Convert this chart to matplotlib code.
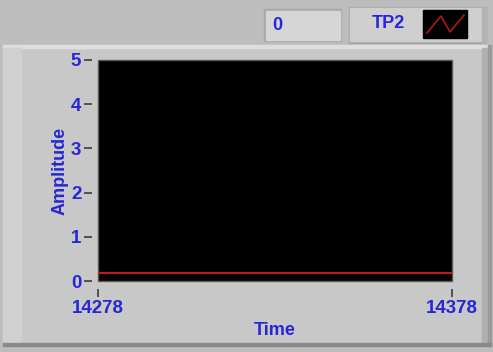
import matplotlib
matplotlib.use("Agg")
from matplotlib import pyplot as plt
from matplotlib.patches import Rectangle

# Data
time = [14278, 14378]
amplitude = [0.19, 0.19]
y_ticks = [0, 1, 2, 3, 4, 5]
x_ticks = [14278, 14378]
legend_name = "TP2"
display_value = "0"

blue = "#2626d8"
plt.rcParams["font.family"] = ["Liberation Sans", "DejaVu Sans"]
plt.rcParams["font.weight"] = "bold"

W, H = 493, 352
fig = plt.figure(figsize=(W / 100, H / 100), dpi=100)
fig.patch.set_facecolor("#bdbdbd")

# Background panel drawn in pixel coordinates
bg = fig.add_axes([0, 0, 1, 1])
bg.set_xlim(0, W)
bg.set_ylim(H, 0)
bg.axis("off")
bg.add_patch(Rectangle((3, 45), 485, 301, color="#c8c8c8"))
bg.add_patch(Rectangle((3, 45), 485, 3, color="#dedede"))
bg.add_patch(Rectangle((3, 48), 18, 295, color="#d0d0d0"))
bg.add_patch(Rectangle((482, 48), 6, 297, color="#b0b0b0"))
bg.add_patch(Rectangle((488, 45), 3, 301, color="#9a9a9a"))
bg.add_patch(Rectangle((3, 343), 488, 3, color="#8a8a8a"))

# Value display box
bg.add_patch(Rectangle((264, 9), 77, 32, color="#a8a8a8"))
bg.add_patch(Rectangle((266, 11), 74, 29, color="#d6d6d6"))
bg.text(272, 26, display_value, color=blue, fontsize=13, fontweight="bold",
        va="center", ha="left")

# Legend button
bg.add_patch(Rectangle((349, 7), 137, 36, color="#a6a6a6"))
bg.add_patch(Rectangle((350, 8), 134, 33, color="#cfcfcf"))
bg.add_patch(Rectangle((482, 8), 4, 35, color="#b2b2b2"))
bg.text(372, 24, legend_name, color=blue, fontsize=13, fontweight="bold",
        va="center", ha="left")
bg.add_patch(Rectangle((423, 10), 44, 28, color="black"))
bg.plot([427, 441, 450, 464], [33, 16, 32, 15], color="#b01818", lw=1.2)

# Main chart
ax = fig.add_axes([98 / W, 1 - 281 / H, (452 - 98) / W, (281 - 60) / H])
ax.set_facecolor("black")
ax.patch.set_edgecolor("#5a5a5a")
ax.patch.set_linewidth(1.0)
ax.plot(time, amplitude, color="#b82020", linewidth=1.6)
ax.set_xlim(x_ticks[0], x_ticks[-1])
ax.set_ylim(0, 5)
ax.set_xticks(x_ticks)
ax.set_yticks(y_ticks)
for s in ax.spines.values():
    s.set_visible(False)
ax.spines["left"].set_position(("outward", 4))
ax.spines["bottom"].set_position(("outward", 6))
ax.tick_params(axis="y", colors="#505050", length=6, width=1.4, pad=2,
               labelcolor=blue, labelsize=13.5)
ax.tick_params(axis="x", colors="#505050", length=6, width=1.4, pad=2,
               labelcolor=blue, labelsize=13.5)

ax.set_ylabel("Amplitude", color=blue, fontsize=13, fontweight="bold",
              labelpad=2)
ax.set_xlabel("Time", color=blue, fontsize=13, fontweight="bold",
              labelpad=3)

plt.savefig("out.png", dpi=100, facecolor=fig.get_facecolor())
